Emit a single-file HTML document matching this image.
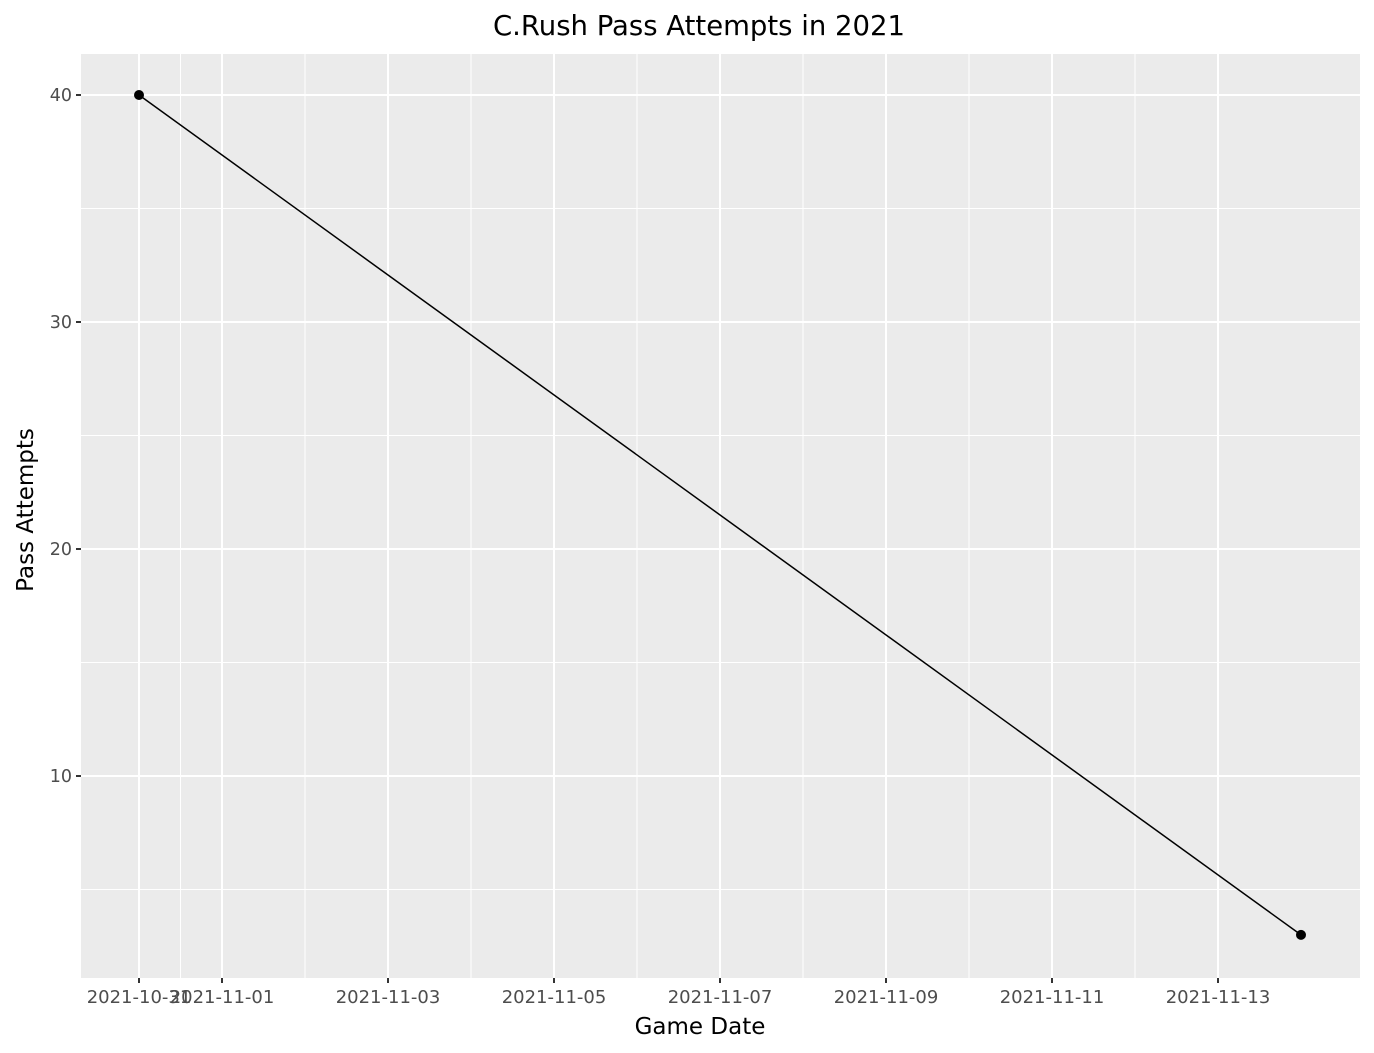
<!DOCTYPE html>
<html><head><meta charset="utf-8"><style>body{margin:0;background:#fff}svg{display:block;font-family:"DejaVu Sans","Liberation Sans",sans-serif}</style></head>
<body>
<svg id="c" width="1374" height="1053"></svg>
<script>
const dates=["2021-10-31","2021-11-14"];
const values=[40,3];
const xTicks=["2021-10-31","2021-11-01","2021-11-03","2021-11-05","2021-11-07","2021-11-09","2021-11-11","2021-11-13"];
const xMinor=["2021-10-31T12:00","2021-11-02","2021-11-04","2021-11-06","2021-11-08","2021-11-10","2021-11-12"];
const yTicks=[10,20,30,40];
const yMinor=[5,15,25,35];
const NS="http://www.w3.org/2000/svg",svg=document.getElementById('c');
const L=81,R=1360,T=54,B=978;
const d0=Date.parse("2021-10-31T00:00Z");
const day=s=>(Date.parse((s.length==10?s+"T00:00":s)+"Z")-d0)/864e5;
const x=s=>139+day(s)*83;
const y=v=>95+(40-v)*22.7;
function mk(t,a,p){const e=document.createElementNS(NS,t);for(const k in a)e.setAttribute(k,a[k]);(p||svg).appendChild(e);return e;}
const bg=mk('rect',{x:L,y:T,width:R-L,height:B-T,fill:'#ebebeb'});


yMinor.forEach(v=>{const l=mk('line',{x1:L,x2:R,y1:y(v),y2:y(v),stroke:'#fff','stroke-width':1});

});
xMinor.forEach(v=>{const l=mk('line',{x1:x(v),x2:x(v),y1:T,y2:B,stroke:'#fff','stroke-width':1});

});
yTicks.forEach(v=>{const l=mk('line',{x1:L,x2:R,y1:y(v),y2:y(v),stroke:'#fff','stroke-width':2});


const tk=mk('line',{x1:L-5,x2:L,y1:y(v),y2:y(v),stroke:'#333','stroke-width':2});


const t=mk('text',{x:L-9,y:y(v)+6,'text-anchor':'end','font-size':17.5,fill:'#4d4d4d'});t.textContent=v;

});
xTicks.forEach(v=>{const l=mk('line',{x1:x(v),x2:x(v),y1:T,y2:B,stroke:'#fff','stroke-width':2});


const tk=mk('line',{x1:x(v),x2:x(v),y1:B,y2:B+5,stroke:'#333','stroke-width':2});


const t=mk('text',{x:x(v),y:B+25,'text-anchor':'middle','font-size':18,fill:'#4d4d4d'});t.textContent=v;

});
const ln=mk('polyline',{points:dates.map((d,i)=>x(d)+','+y(values[i])).join(' '),fill:'none',stroke:'#000','stroke-width':1.5});


dates.forEach((d,i)=>{const c=mk('circle',{cx:x(d),cy:y(values[i]),r:5,fill:'#000'});

});
const tt=mk('text',{x:699,y:35,'text-anchor':'middle','font-size':27.5,fill:'#000'});tt.textContent='C.Rush Pass Attempts in 2021';


const xt=mk('text',{x:700,y:1034,'text-anchor':'middle','font-size':23,fill:'#000'});xt.textContent='Game Date';


const yt=mk('text',{x:0,y:0,'text-anchor':'middle','font-size':23,fill:'#000',transform:'translate(33,510) rotate(-90)'});yt.textContent='Pass Attempts';


</script>
</body></html>
